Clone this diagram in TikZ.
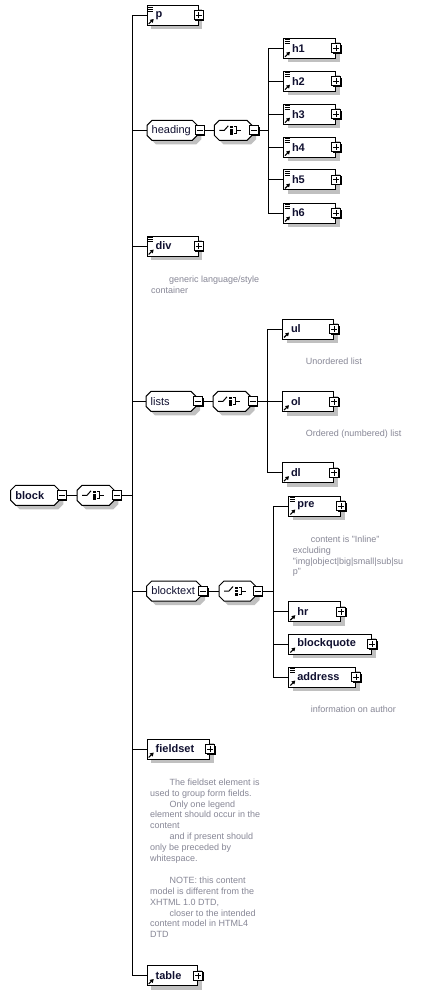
\documentclass[tikz,border=0pt]{standalone}
\usepackage{fontspec}
\setmainfont{Liberation Sans}
\usetikzlibrary{shadows,arrows.meta}
\definecolor{lblc}{RGB}{16,16,48}
\definecolor{cmtc}{RGB}{135,135,150}
\definecolor{shc}{RGB}{192,192,192}
\tikzset{
 elem/.style={draw, fill=white, line width=1pt, inner sep=0pt, minimum height=20pt, text=lblc,
   font=\fontsize{11}{12}\selectfont\bfseries,
   drop shadow={shadow xshift=4pt, shadow yshift=-4pt, fill=shc, opacity=1}},
 grp/.style={inner sep=0pt, minimum height=20pt, text=lblc, font=\fontsize{11}{12}\selectfont},
 pmbox/.style={draw, fill=white, line width=1pt, minimum size=9pt, inner sep=0pt,
   drop shadow={shadow xshift=1pt, shadow yshift=-1pt, fill=black, opacity=1}},
 plusbox/.style={pmbox, path picture={\draw[line width=1pt]
   ([xshift=-3pt]path picture bounding box.center) -- ([xshift=3pt]path picture bounding box.center)
   ([yshift=-3pt]path picture bounding box.center) -- ([yshift=3pt]path picture bounding box.center);}},
 minusbox/.style={pmbox, path picture={\draw[line width=1pt]
   ([xshift=-3pt]path picture bounding box.center) -- ([xshift=3pt]path picture bounding box.center);}},
 conn/.style={line width=1pt},
 cmt/.style={inner sep=0pt, anchor=north west, align=left, text=cmtc, font=\fontsize{9}{10.9}\selectfont},
}
% element box: name, x left, y centre, width, label, doc icon (1/0)
\newcommand\mkelem[6]{%
 \node[elem, anchor=west] (#1) at (#2,#3) {\makebox[#4pt][l]{\hspace{8.5pt}\raisebox{-0.8pt}{#5}}};
 \node[plusbox] (#1-p) at (#1.east) {};
 \draw[line width=1.1pt, -{Triangle[length=3.5pt,width=4pt]}] ([shift={(2pt,2pt)}]#1.south west) -- ++(5pt,5pt);
 \ifnum#6=1
  \draw[line width=0.7pt] ([shift={(1.5pt,-2pt)}]#1.north west) -- ++(5pt,0pt)
     ([shift={(1.5pt,-4pt)}]#1.north west) -- ++(5pt,0pt)
     ([shift={(1.5pt,-6pt)}]#1.north west) -- ++(5pt,0pt);
 \fi
}
% octagon outline: xl, xr, yc
\newcommand\octpath[3]{(#1+5,#3-10) -- (#2-5,#3-10) -- (#2,#3-5) -- (#2,#3+5) -- (#2-5,#3+10) -- (#1+5,#3+10) -- (#1,#3+5) -- (#1,#3-5) -- cycle}
% group octagon: name, xl, xr, yc, label
\newcommand\mkocta[5]{%
 \fill[shc, xshift=4pt, yshift=-4pt] \octpath{#2}{#3}{#4};
 \draw[line width=1pt, fill=white] \octpath{#2}{#3}{#4};
 \node[grp, anchor=west] (#1) at (#2,#4) {\makebox[\dimexpr#3pt-#2pt\relax][l]{\hspace{4.5pt}\raisebox{-0.8pt}{#5}}};
 \node[minusbox] (#1-m) at ([xshift=2pt]#1.east) {};
}
% choice compositor: name, xl, xr, yc
\newcommand\mkchoice[4]{%
 \fill[shc, xshift=4pt, yshift=-4pt] \octpath{#2}{#3}{#4};
 \draw[line width=1pt, fill=white] \octpath{#2}{#3}{#4};
 \node[inner sep=0pt, minimum height=20pt, anchor=west] (#1) at (#2,#4) {\makebox[\dimexpr#3pt-#2pt\relax]{}};
 \draw[line width=1pt] (#2+5,#4) -- (#2+10,#4) -- (#2+14,#4-4.5);
 \fill (#2+16,#4-4.5) rectangle (#2+18.5,#4-2);
 \fill (#2+16,#4-1.25) rectangle (#2+18.5,#4+1.25);
 \fill (#2+16,#4+2) rectangle (#2+18.5,#4+4.5);
 \draw[line width=0.9pt] (#2+20,#4-3.5) -- (#2+22.5,#4-3.5) -- (#2+22.5,#4+3.5) -- (#2+20,#4+3.5)
   (#2+22.5,#4) -- (#2+27,#4);
 \node[minusbox] (#1-m) at ([xshift=2pt]#1.east) {};
}
\begin{document}
\begin{tikzpicture}[x=1pt,y=-1pt]
\fill[white] (0,0) rectangle (423,995);
\useasboundingbox (0,0) rectangle (423,995);

% root
\mkocta{block}{10.7}{59.3}{495.3}{\bfseries block}
\mkchoice{bseq}{77}{114.3}{495.3}

% children of the root
\mkelem{p}{146.7}{15.5}{51}{p}{1}
\mkocta{heading}{147}{197.3}{130.3}{heading}
\mkchoice{hseq}{214.3}{252}{130.3}
\mkelem{h1}{283}{48.3}{52}{h1}{1}
\mkelem{h2}{283}{81.2}{52}{h2}{1}
\mkelem{h3}{283}{114.2}{52}{h3}{1}
\mkelem{h4}{283}{147.1}{52}{h4}{1}
\mkelem{h5}{283}{180}{52}{h5}{1}
\mkelem{h6}{283}{213}{52}{h6}{1}
\mkelem{div}{146.7}{246}{51}{div}{1}
\mkocta{lists}{146}{196}{401.3}{lists}
\mkchoice{lseq}{213}{250.5}{401.3}
\mkelem{ul}{282}{329}{51}{ul}{0}
\mkelem{ol}{282}{401.7}{51}{ol}{0}
\mkelem{dl}{282}{472.7}{51}{dl}{0}
\mkocta{blocktext}{146.7}{201}{591}{blocktext}
\mkchoice{btseq}{219}{255.5}{591}
\mkelem{pre}{288.3}{506}{51.7}{pre}{1}
\mkelem{hr}{288.3}{611.7}{51.7}{hr}{0}
\mkelem{blockquote}{288.3}{644}{82.7}{blockquote}{0}
\mkelem{address}{288.3}{677}{66.7}{address}{1}
\mkelem{fieldset}{146.7}{749}{62.3}{fieldset}{0}
\mkelem{table}{146.7}{975.5}{50.6}{table}{0}

% comments
\node[cmt] (cdiv) at (151,275.5) {\hspace*{18pt}generic language/style\\container};
\node[cmt] (cul) at (305.7,358.2) {Unordered list};
\node[cmt] (col) at (305.7,429.5) {Ordered (numbered) list};
\node[cmt] (cpre) at (292.7,535.5) {\hspace*{18pt}content is "Inline"\\excluding\\"img|object|big|small|sub|su\\p"};
\node[cmt] (caddr) at (310.7,706.2) {information on author};
\node[cmt] (cfs) at (150,778.5) {\hspace*{19.3pt}The fieldset element is\\used to group form fields.\\\hspace*{19.3pt}Only one legend\\element should occur in the\\content\\\hspace*{19.3pt}and if present should\\only be preceded by\\whitespace.\\[10.9pt]\hspace*{19.3pt}NOTE: this content\\model is different from the\\XHTML 1.0 DTD,\\\hspace*{19.3pt}closer to the intended\\content model in HTML4\\DTD};

% connectors: root
\coordinate (trunk) at (132,495.3);
\draw[conn] (block-m.east) -- (bseq.west);
\draw[conn] (bseq-m.east) -- (trunk);
\draw[conn] (trunk |- p.west) -- (trunk |- table.west);
\foreach \n in {p,heading,div,lists,blocktext,fieldset,table}
  \draw[conn] (trunk |- \n.west) -- (\n.west);
% heading
\coordinate (hv) at (268,130.3);
\draw[conn] (heading-m.east) -- (hseq.west);
\draw[conn] (hseq-m.east) -- (hv);
\draw[conn] (hv |- h1.west) -- (hv |- h6.west);
\foreach \n in {h1,h2,h3,h4,h5,h6}
  \draw[conn] (hv |- \n.west) -- (\n.west);
% lists
\coordinate (lv) at (267.3,401.3);
\draw[conn] (lists-m.east) -- (lseq.west);
\draw[conn] (lseq-m.east) -- (lv);
\draw[conn] (lv |- ul.west) -- (lv |- dl.west);
\foreach \n in {ul,ol,dl}
  \draw[conn] (lv |- \n.west) -- (\n.west);
% blocktext
\coordinate (bv) at (273.3,591);
\draw[conn] (blocktext-m.east) -- (btseq.west);
\draw[conn] (btseq-m.east) -- (bv);
\draw[conn] (bv |- pre.west) -- (bv |- address.west);
\foreach \n in {pre,hr,blockquote,address}
  \draw[conn] (bv |- \n.west) -- (\n.west);
\end{tikzpicture}
\end{document}
